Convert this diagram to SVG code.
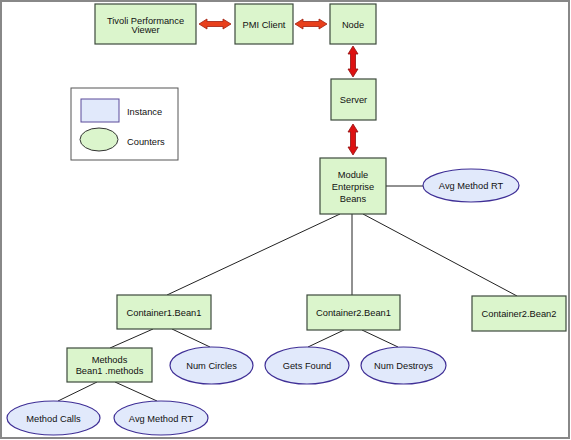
<svg xmlns="http://www.w3.org/2000/svg" width="571" height="440" viewBox="0 0 571 440">
<style>
.box{fill:#dbf5cc;stroke:#3c4a3c;stroke-width:1.2}
.ell{fill:#e1e9fb;stroke:#3f2f96;stroke-width:1.2}
.t{font-family:"Liberation Sans",Arial,sans-serif;font-size:9.3px;fill:#111;text-anchor:middle}
.lt{font-family:"Liberation Sans",Arial,sans-serif;font-size:9.3px;fill:#111}
.ln{stroke:#222;stroke-width:1;fill:none}
.ah{fill:#e8401c;stroke:#a02010;stroke-width:0.8}
.av{fill:#dd1111;stroke:#901010;stroke-width:0.8}
</style>
<rect x="0" y="0" width="571" height="440" fill="#fff"/>
<rect x="1" y="1" width="568" height="437" fill="none" stroke="#888" stroke-width="2"/>

<g id="connectors">
<path class="ah" d="M199,24 L207,19 L207,21.5 L223,21.5 L223,19 L231,24 L223,29 L223,26.5 L207,26.5 L207,29 Z"/>
<path class="ah" d="M295,24 L303,19 L303,21.5 L319,21.5 L319,19 L327,24 L319,29 L319,26.5 L303,26.5 L303,29 Z"/>
<path class="av" d="M353,46 L358,54 L355.5,54 L355.5,69 L358,69 L353,77 L348,69 L350.5,69 L350.5,54 L348,54 Z"/>
<path class="av" d="M353,124 L358,132 L355.5,132 L355.5,147 L358,147 L353,155 L348,147 L350.5,147 L350.5,132 L348,132 Z"/>
<line class="ln" x1="386" y1="186" x2="423" y2="186"/>
<line class="ln" x1="340" y1="214" x2="167" y2="295"/>
<line class="ln" x1="352" y1="214" x2="352" y2="295"/>
<line class="ln" x1="363" y1="214" x2="517" y2="296"/>
<line class="ln" x1="153" y1="329" x2="110" y2="348"/>
<line class="ln" x1="172" y1="329" x2="210" y2="347"/>
<line class="ln" x1="97" y1="382" x2="58" y2="401"/>
<line class="ln" x1="115" y1="382" x2="157" y2="401"/>
<line class="ln" x1="344" y1="330" x2="308" y2="347"/>
<line class="ln" x1="362" y1="330" x2="398" y2="347"/>
</g>

<g id="tivoli"><rect class="box" x="95" y="4" width="101" height="40"/><text class="t" x="145.5" y="23.5">Tivoli Performance</text><text class="t" x="145.5" y="32.5">Viewer</text></g>
<g id="pmi"><rect class="box" x="235" y="4" width="58" height="40"/><text class="t" x="264" y="27.5">PMI Client</text></g>
<g id="node"><rect class="box" x="330" y="4" width="46" height="40"/><text class="t" x="353" y="27.5">Node</text></g>
<g id="server"><rect class="box" x="331" y="79" width="45" height="41"/><text class="t" x="353.5" y="103">Server</text></g>
<g id="module"><rect class="box" x="320" y="158" width="66" height="56"/><text class="t" x="353" y="178">Module</text><text class="t" x="353" y="190">Enterprise</text><text class="t" x="353" y="202">Beans</text></g>
<g id="avgrt1"><ellipse class="ell" cx="471" cy="185.5" rx="48" ry="16.5"/><text class="t" x="471" y="189">Avg Method RT</text></g>

<g id="legend">
<rect x="71" y="88" width="107" height="72" fill="#fff" stroke="#555" stroke-width="1"/>
<rect x="81" y="99" width="38" height="23" fill="#e1e9fb" stroke="#5a4a9a" stroke-width="1"/>
<text class="lt" x="127" y="115">Instance</text>
<ellipse cx="99" cy="139.5" rx="19" ry="11.5" fill="#dbf5cc" stroke="#333" stroke-width="1"/>
<text class="lt" x="127" y="145">Counters</text>
</g>

<g id="c1b1"><rect class="box" x="117" y="295" width="94" height="34"/><text class="t" x="164" y="315.5">Container1.Bean1</text></g>
<g id="c2b1"><rect class="box" x="307" y="295" width="93" height="35"/><text class="t" x="353.5" y="316">Container2.Bean1</text></g>
<g id="c2b2"><rect class="box" x="472" y="296" width="94" height="35"/><text class="t" x="519" y="317">Container2.Bean2</text></g>
<g id="methods"><rect class="box" x="67" y="348" width="85" height="34"/><text class="t" x="109.5" y="363">Methods</text><text class="t" x="109.5" y="374">Bean1 .methods</text></g>
<g id="numcircles"><ellipse class="ell" cx="211.5" cy="365.5" rx="41.5" ry="18.5"/><text class="t" x="211.5" y="369">Num Circles</text></g>
<g id="getsfound"><ellipse class="ell" cx="307" cy="365.5" rx="42" ry="18.5"/><text class="t" x="307" y="369">Gets Found</text></g>
<g id="numdestroys"><ellipse class="ell" cx="403.5" cy="365.5" rx="42.5" ry="18.5"/><text class="t" x="403.5" y="369">Num Destroys</text></g>
<g id="methodcalls"><ellipse class="ell" cx="53.5" cy="418" rx="46.5" ry="17"/><text class="t" x="53.5" y="421.5">Method Calls</text></g>
<g id="avgrt2"><ellipse class="ell" cx="161" cy="418" rx="47" ry="17"/><text class="t" x="161" y="421.5">Avg Method RT</text></g>
</svg>
